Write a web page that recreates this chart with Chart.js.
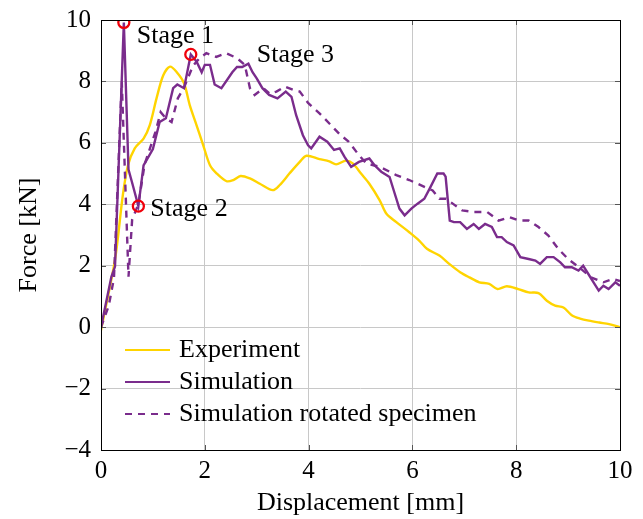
<!DOCTYPE html>
<html lang="en">
<head>
<meta charset="UTF-8">
<title>Force vs displacement</title>
<script src="https://cdn.jsdelivr.net/npm/chart.js@4.4.1/dist/chart.umd.min.js"></script>
<style>
  html, body { margin: 0; padding: 0; background: #fff; }
</style>
</head>
<body>
<canvas id="chart" width="643" height="519"></canvas>
<script>
const expX = [0, 0.27, 0.42, 0.52, 0.65, 0.82, 0.94, 1.07, 1.2, 1.33, 1.46, 1.6, 1.71, 1.84, 1.97, 2.1, 2.23, 2.42, 2.55, 2.69, 2.87, 3.06, 3.31, 3.44, 3.63, 3.83, 3.96, 4.21, 4.4, 4.53, 4.72, 4.85, 5.01, 5.17, 5.37, 5.5, 5.69, 5.94, 6.13, 6.28, 6.52, 6.71, 6.92, 7.1, 7.29, 7.48, 7.64, 7.82, 8.04, 8.24, 8.43, 8.59, 8.75, 8.91, 9.07, 9.23, 9.4, 9.6, 9.79, 10];
const expY = [-0.1, 2.2, 4.29, 5.27, 5.82, 6.14, 6.58, 7.45, 8.2, 8.48, 8.3, 7.94, 7.23, 6.58, 5.92, 5.27, 5.0, 4.75, 4.79, 4.92, 4.84, 4.67, 4.46, 4.62, 5.0, 5.38, 5.58, 5.47, 5.4, 5.3, 5.42, 5.33, 5.0, 4.67, 4.13, 3.69, 3.42, 3.09, 2.82, 2.55, 2.33, 2.06, 1.79, 1.62, 1.46, 1.41, 1.24, 1.33, 1.24, 1.13, 1.11, 0.86, 0.7, 0.64, 0.39, 0.28, 0.21, 0.15, 0.1, 0.0];

const simX = [0, 0.2, 0.27, 0.44, 0.53, 0.6, 0.72, 0.82, 1.0, 1.13, 1.25, 1.39, 1.47, 1.6, 1.73, 1.84, 1.94, 2.0, 2.1, 2.19, 2.32, 2.53, 2.62, 2.72, 2.84, 2.92, 3.0, 3.11, 3.24, 3.4, 3.56, 3.67, 3.76, 3.89, 3.99, 4.05, 4.21, 4.36, 4.49, 4.6, 4.69, 4.82, 4.97, 5.17, 5.27, 5.4, 5.56, 5.65, 5.75, 5.85, 5.98, 6.1, 6.23, 6.33, 6.48, 6.6, 6.64, 6.72, 6.8, 6.92, 7.05, 7.18, 7.28, 7.4, 7.53, 7.63, 7.72, 7.82, 7.95, 8.08, 8.24, 8.37, 8.46, 8.59, 8.72, 8.85, 8.94, 9.07, 9.2, 9.29, 9.39, 9.49, 9.59, 9.68, 9.78, 9.91, 10];
const simY = [0, 1.64, 1.97, 9.92, 5.13, 4.7, 3.94, 5.27, 5.8, 6.68, 6.8, 7.78, 7.9, 7.78, 8.88, 8.65, 8.3, 8.54, 8.54, 7.9, 7.78, 8.3, 8.47, 8.47, 8.58, 8.3, 8.1, 7.78, 7.56, 7.45, 7.67, 7.5, 6.9, 6.25, 5.92, 5.82, 6.2, 6.04, 5.77, 5.82, 5.55, 5.22, 5.38, 5.49, 5.27, 5.06, 4.89, 4.4, 3.86, 3.64, 3.86, 4.02, 4.18, 4.5, 5.0, 5.0, 4.9, 3.47, 3.42, 3.42, 3.2, 3.36, 3.2, 3.36, 3.26, 2.93, 2.93, 2.77, 2.66, 2.28, 2.22, 2.17, 2.06, 2.28, 2.28, 2.11, 1.95, 1.95, 1.84, 2.0, 1.73, 1.46, 1.19, 1.35, 1.24, 1.46, 1.35];

const rotX = [0, 0.15, 0.25, 0.4, 0.53, 0.6, 0.72, 0.84, 1.05, 1.15, 1.25, 1.36, 1.48, 1.6, 1.77, 1.9, 2.03, 2.22, 2.41, 2.62, 2.77, 2.87, 2.96, 3.13, 3.25, 3.38, 3.54, 3.71, 3.83, 3.99, 4.21, 4.4, 4.6, 4.77, 4.97, 5.11, 5.37, 5.69, 5.94, 6.19, 6.39, 6.52, 6.65, 6.81, 6.96, 7.18, 7.44, 7.66, 7.87, 8.06, 8.24, 8.43, 8.62, 8.81, 9.0, 9.21, 9.44, 9.68, 9.87, 10];
const rotY = [0, 0.7, 1.6, 8.0, 1.64, 3.5, 4.0, 5.3, 6.36, 7.0, 6.8, 6.68, 7.45, 7.8, 8.5, 8.76, 8.92, 8.8, 8.92, 8.76, 8.54, 7.78, 7.56, 7.78, 7.6, 7.67, 7.83, 7.72, 7.67, 7.3, 6.96, 6.63, 6.28, 6.04, 5.6, 5.33, 5.22, 4.95, 4.79, 4.6, 4.45, 4.18, 4.18, 3.98, 3.8, 3.75, 3.75, 3.47, 3.58, 3.47, 3.47, 3.26, 2.98, 2.55, 2.22, 1.95, 1.62, 1.46, 1.57, 1.5];

const stageX = [0.44, 0.72, 1.73];
const stageY = [9.92, 3.94, 8.88];
const stageLabels = ['Stage 1', 'Stage 2', 'Stage 3'];

const xTicks = [0, 2, 4, 6, 8, 10];
const yTicks = [-4, -2, 0, 2, 4, 6, 8, 10];

// style
const YELLOW = 'rgb(255, 212, 0)';
const PURPLE = 'rgb(122, 44, 140)';
const SERIF = '"Liberation Serif", "Times New Roman", serif';
const labelOffsets = [[13, 14], [12, 3], [66, 1]];

function pts(xs, ys) {
    return xs.map((x, i) => ({ x: x, y: ys[i] }));
}

function fmt(v) {
    return v < 0 ? '\u2212' + Math.abs(v) : String(v);
}

const decor = {
    id: 'decor',
    afterDatasetsDraw(chart) {
        const { ctx, chartArea: a, scales } = chart;
        ctx.save();

        // inner tick marks
        ctx.strokeStyle = '#555';
        ctx.lineWidth = 1;
        ctx.beginPath();
        xTicks.forEach(v => {
            const px = Math.round(scales.x.getPixelForValue(v)) + 0.5;
            ctx.moveTo(px, a.bottom); ctx.lineTo(px, a.bottom - 5);
            ctx.moveTo(px, a.top); ctx.lineTo(px, a.top + 5);
        });
        yTicks.forEach(v => {
            const py = Math.round(scales.y.getPixelForValue(v)) + 0.5;
            ctx.moveTo(a.left, py); ctx.lineTo(a.left + 5, py);
            ctx.moveTo(a.right, py); ctx.lineTo(a.right - 5, py);
        });
        ctx.stroke();

        // frame
        ctx.strokeStyle = '#000';
        ctx.strokeRect(Math.round(a.left) + 0.5, Math.round(a.top) + 0.5,
            Math.round(a.right - a.left), Math.round(a.bottom - a.top));

        // stage labels
        ctx.fillStyle = '#000';
        ctx.font = '26px ' + SERIF;
        ctx.textBaseline = 'middle';
        ctx.textAlign = 'left';
        stageLabels.forEach((t, i) => {
            const px = scales.x.getPixelForValue(stageX[i]);
            const py = scales.y.getPixelForValue(stageY[i]);
            ctx.fillText(t, px + labelOffsets[i][0], py + labelOffsets[i][1]);
        });

        // legend, lower left inside the plot
        const rows = [a.bottom - 100, a.bottom - 68, a.bottom - 36];
        chart.data.datasets.slice(0, 3).forEach((ds, i) => {
            const y = rows[i];
            ctx.strokeStyle = ds.borderColor;
            ctx.lineWidth = 2.2;
            ctx.setLineDash(ds.borderDash || []);
            ctx.beginPath();
            ctx.moveTo(a.left + 24, y);
            ctx.lineTo(a.left + 69, y);
            ctx.stroke();
            ctx.setLineDash([]);
            ctx.fillText(ds.label, a.left + 78, y);
        });

        ctx.restore();
    }
};

new Chart(document.getElementById('chart'), {
    type: 'line',
    data: {
        datasets: [
            {
                label: 'Experiment',
                data: pts(expX, expY),
                borderColor: YELLOW,
                borderWidth: 2.4,
                pointRadius: 0,
                tension: 0.3,
                order: 3
            },
            {
                label: 'Simulation',
                data: pts(simX, simY),
                borderColor: PURPLE,
                borderWidth: 2.4,
                pointRadius: 0,
                tension: 0,
                order: 2
            },
            {
                label: 'Simulation rotated specimen',
                data: pts(rotX, rotY),
                borderColor: PURPLE,
                borderWidth: 2.4,
                borderDash: [7, 6],
                pointRadius: 0,
                tension: 0,
                order: 1
            },
            {
                label: 'Stages',
                data: pts(stageX, stageY),
                showLine: false,
                pointRadius: 5.5,
                pointBorderWidth: 2.3,
                pointBorderColor: 'rgb(240, 0, 10)',
                pointBackgroundColor: 'rgba(0,0,0,0)',
                order: 0
            }
        ]
    },
    options: {
        responsive: false,
        animation: false,
        layout: { padding: { top: 20, right: 23, left: 0, bottom: 0 } },
        plugins: {
            legend: { display: false },
            tooltip: { enabled: false }
        },
        scales: {
            x: {
                type: 'linear',
                min: 0,
                max: 10,
                afterFit: s => { s.height = 69; },
                afterBuildTicks: s => { s.ticks = xTicks.map(v => ({ value: v })); },
                grid: { color: 'rgb(200,200,200)', lineWidth: 1, drawTicks: false },
                border: { display: false },
                ticks: {
                    padding: 6,
                    color: '#000',
                    font: { family: SERIF, size: 25 },
                    callback: v => fmt(v)
                },
                title: {
                    display: true,
                    text: 'Displacement [mm]',
                    color: '#000',
                    font: { family: SERIF, size: 26 },
                    padding: { top: 0, bottom: 0 }
                }
            },
            y: {
                type: 'linear',
                min: -4,
                max: 10,
                afterFit: s => {
                    s.width = 101;
                    s.paddingTop = 12;
                    s.paddingBottom = 12;
                },
                afterBuildTicks: s => { s.ticks = yTicks.map(v => ({ value: v })); },
                grid: { color: 'rgb(200,200,200)', lineWidth: 1, drawTicks: false },
                border: { display: false },
                ticks: {
                    padding: 10,
                    color: '#000',
                    font: { family: SERIF, size: 25 },
                    callback: v => fmt(v)
                },
                title: {
                    display: true,
                    text: 'Force [kN]',
                    color: '#000',
                    font: { family: SERIF, size: 26 },
                    padding: { top: 14, bottom: 0 }
                }
            }
        }
    },
    plugins: [decor]
});
</script>
</body>
</html>
